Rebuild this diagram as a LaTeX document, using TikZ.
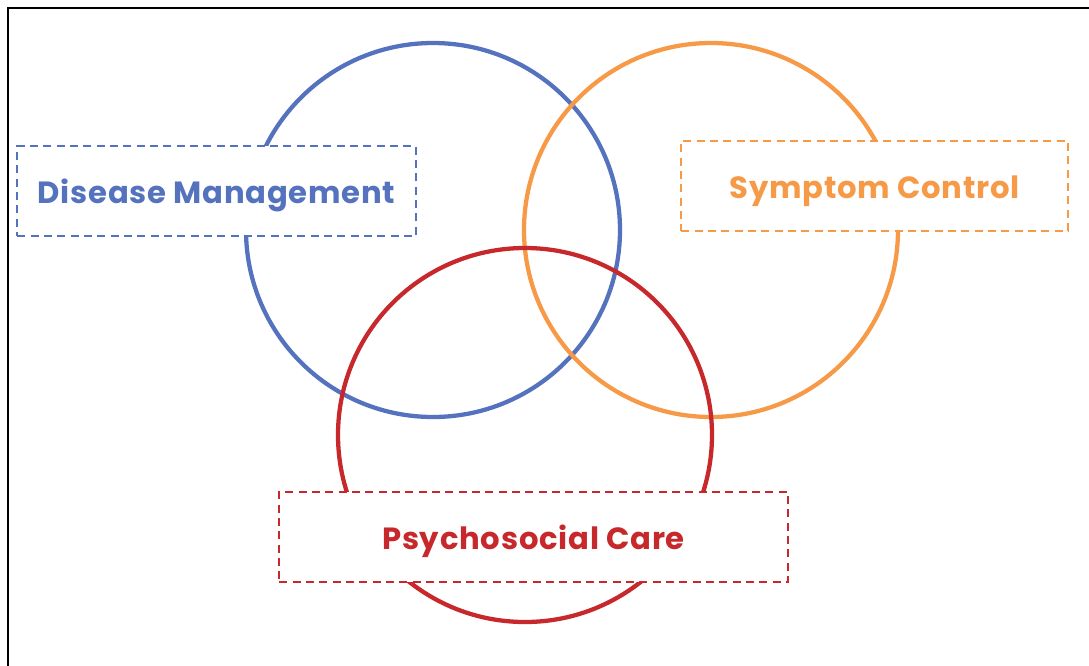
\documentclass[tikz,border=0pt]{standalone}
\usepackage{fontspec}
\setmainfont{Poppins}[LetterSpace=2.5]
\definecolor{dmblue}{RGB}{84,114,189}
\definecolor{scorange}{RGB}{247,154,72}
\definecolor{pcred}{RGB}{199,40,44}
\tikzset{
  ring/.style={line width=3.2pt},
  areabox/.style={draw, fill=white, line width=1.6pt, dash pattern=on 6pt off 4pt,
    minimum height=67.5pt, inner sep=0pt, text height=19pt, text depth=0pt,
    font=\fontsize{23}{27}\selectfont\bfseries}
}
\begin{document}
\begin{tikzpicture}[x=0.75pt,y=-0.75pt]

            % the frame
            \useasboundingbox (0,0) rectangle (1089,665);
            \draw[line width=1.5pt] (8,8) rectangle (1100,680);

            % the rings
            \draw[ring, dmblue] (433,230) circle[radius=187];
            \draw[ring, scorange] (711,230) circle[radius=187];
            \draw[ring, pcred] (525,435) circle[radius=187];

            % labels
            \node[areabox, draw=dmblue, text=dmblue, minimum width=299pt] (dm) at (216.5,191) {Disease Management};
            \node[areabox, draw=scorange, text=scorange, minimum width=290pt] (sc) at (874.5,186) {Symptom Control};
            \node[areabox, draw=pcred, text=pcred, minimum width=381.5pt] (pc) at (533.5,537) {Psychosocial Care};

        \end{tikzpicture}
\end{document}
